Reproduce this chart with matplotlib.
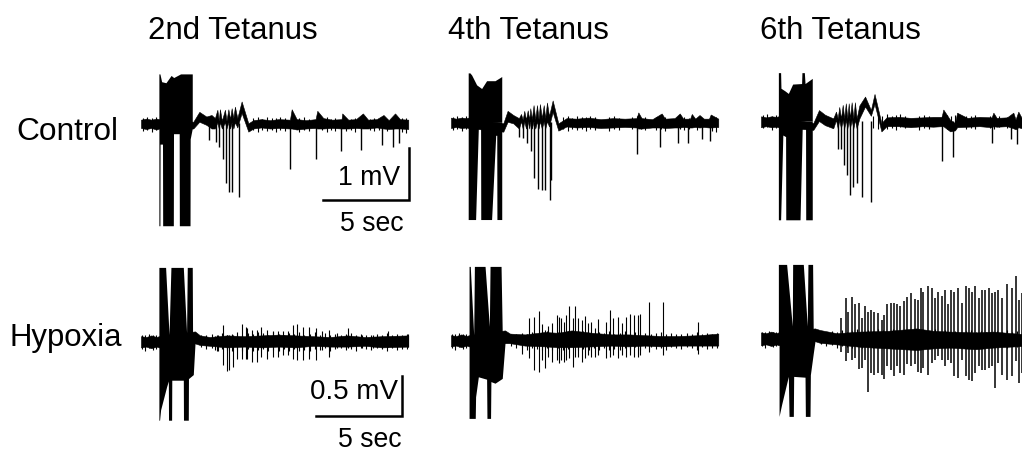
import matplotlib
matplotlib.use("Agg")
import matplotlib.pyplot as plt

plt.rcParams['font.family'] = ['Liberation Sans', 'DejaVu Sans']

W, H = 1022, 450
PX_PER_SEC = 17.2
PX_PER_MV_CONTROL = 52
PX_PER_MV_HYPOXIA = 80

titles = ["2nd Tetanus", "4th Tetanus", "6th Tetanus"]
row_labels = ["Control", "Hypoxia"]

# Control, 2nd tetanus (time in s, voltage in mV)
c2_band_t = [0, .3, .6, .9, 1.05, 3.04, 3.39, 3.8, 4.1, 4.3, 4.44, 4.52, 4.59, 4.7, 4.88, 4.97, 5.08, 5.18, 5.27, 5.37, 5.46, 5.6, 5.85, 6.24, 6.53, 7.0, 7.5, 8.0, 8.66, 8.76, 9.05, 9.6, 10.15, 10.25, 10.6, 11.1, 11.66, 11.7, 12.05, 12.5, 12.9, 13.2, 13.7, 14.1, 14.4, 14.77, 15.06, 15.54]
c2_band_hi = [.07, .09, .07, .09, .08, .03, .22, .13, .16, .1, .26, .05, .27, .05, .26, .05, .27, .08, .29, .1, .32, .1, .42, 0, .06, .08, .06, .08, .07, .27, .08, .06, .08, .24, .1, .07, .08, .19, .07, .08, .19, .07, .08, .16, .06, .19, .08, .07]
c2_band_lo = [-.09, -.11, -.09, -.12, -.1, -.1, .03, -.03, -.1, -.1, .02, -.1, .02, -.1, .02, -.1, .02, -.1, .02, -.1, .02, -.08, .2, -.16, -.1, -.08, -.1, -.09, -.1, -.1, -.12, -.1, -.09, -.1, -.1, -.09, -.1, -.1, -.1, -.09, -.1, -.1, -.08, -.1, -.11, -.1, -.1, -.11]
c2_stim_up_t = [1.04, 1.1, 1.2, 1.45, 1.75, 1.9, 2.3, 2.98]
c2_stim_up = [.95, .95, .8, .78, .92, .88, .95, .95]
c2_stim_lo_t = [1.04, 1.1, 1.11, 1.25, 1.26, 1.88, 1.89, 2.22, 2.23, 2.85, 2.86, 2.98]
c2_stim_lo = [-1.97, -1.97, -.4, -.4, -1.97, -1.97, -.2, -.2, -1.97, -1.97, -.3, -.1]
c2_spike_t = [3.97, 4.34, 4.51, 4.75, 4.94, 5.1, 5.31, 5.7, 8.66, 10.15, 11.61, 12.81, 13.99, 14.63, 14.98]
c2_spike_lo = [-.32, -.35, -.45, -.69, -1.14, -1.33, -1.33, -1.42, -.88, -.68, -.53, -.51, -.42, -.46, -.38]

# Control, 4th tetanus
c4_band_t = [0, .3, .6, .9, 1.0, 3.04, 3.29, 3.62, 3.95, 4.07, 4.17, 4.26, 4.36, 4.46, 4.55, 4.61, 4.7, 4.8, 4.9, 5.0, 5.09, 5.17, 5.28, 5.39, 5.48, 5.58, 5.7, 5.91, 6.24, 6.72, 7.3, 8.0, 8.7, 9.4, 10.1, 10.79, 10.89, 11.08, 11.7, 12.25, 12.44, 13.0, 13.3, 13.5, 13.9, 14.0, 14.2, 14.45, 14.7, 15.0, 15.1, 15.54]
c4_band_hi = [.09, .07, .09, .08, .09, -.02, .22, .14, .08, .16, .05, .22, .05, .23, .05, .27, .06, .33, .06, .33, .06, .35, .08, .33, .08, .38, .12, .42, -.02, .08, .07, .09, .06, .08, .07, .08, .19, .08, .06, .17, .07, .08, .17, .07, .07, .16, .07, .14, .07, .07, .15, .07]
c4_band_lo = [-.11, -.09, -.11, -.1, -.11, -.18, .01, -.02, -.12, .02, -.12, .02, -.12, .02, -.12, .02, -.12, .02, -.12, .02, -.12, .02, -.12, .02, -.12, .02, -.08, .2, -.16, -.08, -.1, -.09, -.11, -.1, -.09, -.1, -.12, -.12, -.1, -.1, -.11, -.1, -.1, -.09, -.1, -.1, -.09, -.1, -.09, -.1, -.1, -.09]
c4_stim_up_t = [1.0, 1.1, 1.2, 1.49, 1.78, 2.07, 2.56, 2.95]
c4_stim_up = [.95, .95, .91, .72, .65, .8, .8, .88]
c4_stim_lo_t = [1.0, 1.43, 1.59, 1.72, 1.73, 2.36, 2.6, 2.66, 2.67, 2.95]
c4_stim_lo = [-1.87, -1.87, -.1, -.1, -1.87, -1.87, -.25, -.25, -1.87, -1.87]
c4_spike_t = [3.95, 4.17, 4.4, 4.65, 4.82, 5.04, 5.27, 5.46, 5.75, 5.81, 10.79, 12.13, 13.22, 13.78, 14.59, 15.06]
c4_spike_lo = [-.28, -.31, -.4, -.56, -1.08, -1.29, -1.3, -1.3, -1.49, -1.11, -.61, -.48, -.4, -.4, -.33, -.35]

# Control, 6th tetanus
c6_band_t = [0, .3, .6, .9, 1.01, 3.04, 3.37, 3.72, 4.2, 4.36, 4.46, 4.55, 4.65, 4.75, 4.84, 4.93, 5.02, 5.1, 5.17, 5.27, 5.37, 5.46, 5.56, 5.72, 6.05, 6.39, 6.6, 7.0, 7.3, 8.0, 8.7, 9.4, 10.0, 10.5, 10.6, 11.0, 11.28, 11.4, 12.0, 12.7, 13.41, 13.51, 13.7, 14.3, 14.67, 14.8, 14.96, 15.17]
c6_band_hi = [.09, .07, .09, .08, .09, -.04, .21, .12, .05, .18, .05, .27, .05, .31, .05, .34, .05, .34, .05, .36, .05, .36, .05, .3, .47, .21, .52, -.04, .07, .08, .06, .07, .08, .08, .22, .02, -.04, .16, .06, .08, .07, .16, .06, .07, .16, .03, .18, .05]
c6_band_lo = [-.12, -.1, -.12, -.11, -.12, -.17, .0, -.08, -.14, .02, -.14, .02, -.14, .02, -.14, .02, -.14, .02, -.14, .02, -.14, .02, -.14, .05, .28, .1, .33, -.2, -.1, -.1, -.12, -.1, -.11, -.1, -.1, -.2, -.18, -.12, -.11, -.1, -.12, -.1, -.11, -.1, -.14, -.16, -.12, -.14]
c6_stim_up_t = [1.01, 1.14, 1.16, 1.39, 1.59, 1.84, 2.36, 2.38, 2.52, 2.56, 2.98]
c6_stim_up = [.93, .93, .63, .58, .53, .71, .72, .93, .93, .72, .82]
c6_stim_lo_t = [1.01, 1.14, 1.27, 1.43, 1.44, 2.27, 2.4, 2.59, 2.6, 2.98]
c6_stim_lo = [-1.9, -1.9, -.27, -.3, -1.9, -1.9, -.08, -.08, -1.9, -1.9]
c6_spike_t = [4.46, 4.65, 4.84, 5.02, 5.17, 5.37, 5.56, 5.87, 6.39, 10.5, 11.18, 13.41, 14.53, 14.9]
c6_spike_lo = [-.53, -.53, -.85, -1.04, -1.42, -1.26, -1.2, -1.46, -1.55, -.76, -.69, -.43, -.35, -.44]

# Hypoxia, 2nd tetanus
h2_band_t = [0, .3, .6, .9, 1.04, 3.14, 3.43, 4.0, 5.0, 6.0, 7.0, 8.0, 9.0, 10.0, 11.0, 12.0, 13.0, 14.0, 15.54]
h2_band_hi = [.06, .05, .07, .05, .06, .12, .07, .05, .07, .06, .07, .08, .07, .06, .05, .07, .05, .06, .07]
h2_band_lo = [-.08, -.07, -.09, -.07, -.08, -.03, -.05, -.06, -.08, -.07, -.08, -.07, -.08, -.06, -.07, -.07, -.06, -.08, -.07]
h2_stim_up_t = [1.04, 1.43, 1.63, 1.74, 2.46, 2.65, 2.69, 2.98, 3.0]
h2_stim_up = [.92, .92, .08, .92, .92, .1, .92, .92, 0]
h2_stim_lo_t = [1.04, 1.08, 1.14, 1.49, 1.59, 1.6, 1.78, 1.79, 2.46, 2.47, 2.75, 2.76, 3.04, 3.14]
h2_stim_lo = [-.99, -.99, -.86, -.57, -.5, -.99, -.99, -.49, -.49, -.99, -.99, -.47, -.42, -.03]
h2_spike_t = [4.3, 4.49, 4.78, 4.98, 5.13, 5.33, 5.56, 5.85, 6.1, 6.18, 6.43, 6.72, 6.97, 7.3, 7.69, 7.98, 8.27, 8.56, 8.82, 9.05, 9.44, 9.78, 10.17, 10.5, 10.95, 11.37, 12.05, 12.83, 13.5, 14.38, 15.54]
h2_spike_lo = [-.11, -.13, -.3, -.38, -.36, -.32, -.22, -.22, -.22, -.22, -.26, -.26, -.2, -.22, -.2, -.2, -.18, -.18, -.22, -.24, -.24, -.22, -.24, -.11, -.2, -.09, -.09, -.09, -.09, -.07, -.08]
h2_spike_hi = [.06, .08, .2, .08, .08, .08, .08, .21, .18, .16, .14, .14, .18, .14, .12, .12, .12, .12, .2, .21, .18, .18, .16, .12, .14, .1, .16, .08, .08, .12, .09]

# Hypoxia, 4th tetanus
h4_band_t = [0, .3, .6, .9, 1.05, 3.14, 3.43, 4.3, 5.46, 6.2, 7.01, 8.2, 9.34, 10.3, 11.28, 12.2, 13.22, 14.4, 15.54]
h4_band_hi = [.06, .05, .07, .05, .06, .12, .08, .07, .1, .09, .12, .09, .07, .07, .06, .05, .05, .06, .08]
h4_band_lo = [-.08, -.07, -.09, -.07, -.08, -.04, -.04, -.07, -.08, -.09, -.09, -.08, -.07, -.08, -.07, -.08, -.07, -.07, -.07]
h4_stim_up_t = [1.05, 1.12, 1.32, 1.36, 1.98, 2.23, 2.27, 2.91, 2.98, 3.1]
h4_stim_up = [.92, .92, .06, .92, .92, .17, .92, .92, .08, 0]
h4_stim_lo_t = [1.05, 1.41, 1.43, 1.59, 2.07, 2.09, 2.3, 2.32, 2.56, 2.98, 3.14]
h4_stim_lo = [-.98, -.98, -.71, -.46, -.49, -.98, -.98, -.52, -.54, -.48, -.04]
h4_spike_t = [4.15, 4.55, 4.84, 5.11, 5.29, 5.46, 5.66, 5.89, 6.14, 6.28, 6.39, 6.57, 6.7, 6.88, 7.11, 7.19, 7.36, 7.6, 7.77, 7.94, 8.12, 8.37, 8.56, 9.01, 9.24, 9.44, 9.73, 9.92, 10.17, 10.43, 10.62, 10.85, 11.01, 11.51, 12.3, 14.34]
h4_spike_lo = [-.17, -.23, -.37, -.4, -.25, -.35, -.21, -.27, -.25, -.29, -.25, -.27, -.25, -.23, -.34, -.21, -.21, -.27, -.23, -.19, -.21, -.21, -.19, -.23, -.21, -.19, -.23, -.19, -.21, -.19, -.21, -.21, -.19, -.15, -.19, -.17]
h4_spike_hi = [.06, .28, .29, .36, .2, .13, .17, .21, .31, .29, .28, .23, .31, .42, .27, .43, .27, .25, .3, .21, .23, .15, .26, .23, .38, .27, .29, .21, .29, .32, .31, .31, .33, .48, .47, .22]

# Hypoxia, 6th tetanus
h6_band_t = [0, .3, .6, .9, 1.01, 3.14, 3.43, 4.4, 5.76, 7.4, 9.05, 10.0, 10.99, 12.5, 13.5, 15.17]
h6_band_hi = [.07, .06, .08, .06, .07, .12, .1, .06, .08, .09, .12, .09, .08, .07, .08, .05]
h6_band_lo = [-.09, -.08, -.1, -.08, -.09, -.04, -.06, -.08, -.11, -.13, -.15, -.13, -.12, -.14, -.12, -.1]
h6_stim_up_t = [1.01, 1.49, 1.82, 1.84, 2.46, 2.69, 2.73, 3.0, 3.04]
h6_stim_up = [.92, .92, .15, .92, .92, .15, .92, .92, 0]
h6_stim_lo_t = [1.05, 1.2, 1.59, 1.63, 1.88, 1.9, 2.56, 2.58, 2.85, 2.87, 3.04, 3.14]
h6_stim_lo = [-.98, -.83, -.48, -.98, -.98, -.48, -.49, -.98, -.98, -.46, -.19, -.04]
h6_spike_t = [4.63, 4.92, 5.08, 5.27, 5.48, 5.7, 5.85, 6.05, 6.22, 6.38, 6.57, 6.82, 7.01, 7.17, 7.31, 7.54, 7.73, 7.89, 8.08, 8.31, 8.47, 8.74, 8.95, 9.15, 9.28, 9.44, 9.69, 9.92, 10.12, 10.31, 10.5, 10.7, 10.89, 11.05, 11.22, 11.47, 11.67, 11.9, 12.09, 12.25, 12.44, 12.69, 12.87, 13.02, 13.26, 13.45, 13.6, 13.8, 14.03, 14.28, 14.57, 14.83, 15.02, 15.15]
h6_spike_lo = [-.17, -.29, -.19, -.27, -.25, -.39, -.38, -.27, -.67, -.44, -.46, -.44, -.46, -.51, -.35, -.4, -.48, -.35, -.44, -.46, -.33, -.35, -.33, -.42, -.44, -.38, -.46, -.31, -.27, -.23, -.27, -.35, -.27, -.31, -.48, -.5, -.27, -.48, -.52, -.54, -.44, -.35, -.4, -.4, -.38, -.35, -.62, -.31, -.46, -.52, -.48, -.29, -.56, -.44]
h6_spike_hi = [.25, .5, .33, .51, .42, .44, .25, .4, .33, .35, .33, .31, .23, .29, .42, .44, .44, .42, .4, .46, .51, .56, .49, .48, .63, .58, .65, .63, .5, .58, .52, .6, .42, .6, .58, .63, .44, .65, .63, .58, .65, .5, .6, .6, .63, .56, .58, .6, .5, .67, .63, .78, .48, .56]

# recording noise on the baseline, one set per row
ctrl_noise_t = [.1, .35, .62, .85, 6.5, 6.8, 7.05, 7.3, 7.6, 7.85, 8.1, 8.4, 9.2, 9.45, 9.75, 10.5, 10.8, 11.05, 11.3, 11.9, 12.2, 12.45, 13.3, 13.55, 13.85, 14.3, 15.2, 15.4]
ctrl_noise_hi = [.11, .13, .1, .12, .1, .12, .09, .13, .1, .11, .13, .1, .1, .12, .09, .1, .12, .09, .11, .1, .09, .11, .09, .11, .09, .08, .1, .11]
ctrl_noise_lo = [-.14, -.12, -.17, -.13, -.13, -.16, -.12, -.15, -.13, -.17, -.12, -.14, -.17, -.13, -.15, -.13, -.16, -.12, -.14, -.15, -.13, -.16, -.13, -.15, -.12, -.14, -.16, -.18]
hyp_noise_t = [.08, .25, .47, .7, .88, 3.5, 3.8, 4.1, 4.4, 4.7, 5.0, 5.3, 5.6, 5.9, 6.2, 6.5, 6.8, 7.1, 7.4, 7.7, 8.0, 8.3, 8.6, 8.9, 9.2, 9.5, 9.8, 10.1, 10.4, 10.7, 11.0, 11.3, 11.6, 11.9, 12.2, 12.5, 12.8, 13.1, 13.4, 13.7, 14.0, 14.3, 14.6, 14.9, 15.2, 15.45]
hyp_noise_hi = [.08, .07, .09, .07, .08, .08, .07, .09, .08, .1, .08, .09, .11, .08, .1, .09, .11, .1, .08, .11, .09, .08, .1, .09, .11, .08, .09, .11, .08, .1, .08, .09, .07, .09, .1, .07, .09, .08, .07, .09, .08, .1, .07, .09, .08, .09]
hyp_noise_lo = [-.1, -.12, -.09, -.11, -.1, -.08, -.1, -.09, -.12, -.1, -.11, -.13, -.1, -.12, -.1, -.13, -.11, -.1, -.13, -.11, -.12, -.1, -.13, -.1, -.12, -.11, -.13, -.1, -.11, -.09, -.12, -.1, -.09, -.11, -.1, -.12, -.09, -.1, -.11, -.09, -.1, -.12, -.09, -.11, -.1, -.1]


def panel_ax(fig, x0, y0, px_per_mv):
    # axes with its origin on the trace baseline, 75 px above and 110 px below it
    width = 290
    ax = fig.add_axes([x0 / W, 1 - (y0 + 110) / H, width / W, 185 / H])
    ax.set_xlim(0, width / PX_PER_SEC)
    ax.set_ylim(-110 / px_per_mv, 75 / px_per_mv)
    ax.axis("off")
    ax.patch.set_alpha(0)
    return ax


def draw_trace(ax, band_t, band_hi, band_lo, up_t, up, lo_t, lo, spike_t, spike_lo, spike_hi=None, spike_lw=.8, noise=None):
    ax.fill_between(band_t, band_lo, band_hi, color="black", lw=.4)
    ax.fill_between(up_t, 0, up, color="black", lw=0)
    ax.fill_between(lo_t, lo, 0, color="black", lw=0)
    if spike_hi is None:
        spike_hi = [0] * len(spike_t)
    ax.vlines(spike_t, spike_lo, spike_hi, color="black", lw=spike_lw)
    if noise is not None:
        t = [v for v in noise[0] if v <= band_t[-1]]
        ax.vlines(t, noise[2][:len(t)], noise[1][:len(t)], color="black", lw=.8)


ctrl_noise = (ctrl_noise_t, ctrl_noise_hi, ctrl_noise_lo)
hyp_noise = (hyp_noise_t, hyp_noise_hi, hyp_noise_lo)

fig = plt.figure(figsize=(W / 100, H / 100), dpi=100, facecolor="white")

ax = panel_ax(fig, 141, 123.3, PX_PER_MV_CONTROL)
draw_trace(ax, c2_band_t, c2_band_hi, c2_band_lo, c2_stim_up_t, c2_stim_up, c2_stim_lo_t, c2_stim_lo, c2_spike_t, c2_spike_lo, spike_lw=1, noise=ctrl_noise)
# scale bar: 5 s by 1 mV
ax.plot([10.58, 15.58, 15.58], [-1.48, -1.48, -.48], color="black", lw=1.8, solid_joinstyle="miter")

ax = panel_ax(fig, 451, 122.3, PX_PER_MV_CONTROL)
draw_trace(ax, c4_band_t, c4_band_hi, c4_band_lo, c4_stim_up_t, c4_stim_up, c4_stim_lo_t, c4_stim_lo, c4_spike_t, c4_spike_lo, spike_lw=1, noise=ctrl_noise)

ax = panel_ax(fig, 761, 121, PX_PER_MV_CONTROL)
draw_trace(ax, c6_band_t, c6_band_hi, c6_band_lo, c6_stim_up_t, c6_stim_up, c6_stim_lo_t, c6_stim_lo, c6_spike_t, c6_spike_lo, spike_lw=1, noise=ctrl_noise)

ax = panel_ax(fig, 141, 341, PX_PER_MV_HYPOXIA)
draw_trace(ax, h2_band_t, h2_band_hi, h2_band_lo, h2_stim_up_t, h2_stim_up, h2_stim_lo_t, h2_stim_lo, h2_spike_t, h2_spike_lo, h2_spike_hi, noise=hyp_noise)
# scale bar: 5 s by 0.5 mV
ax.plot([10.17, 15.17, 15.17], [-.94, -.94, -.44], color="black", lw=1.8, solid_joinstyle="miter")

ax = panel_ax(fig, 451, 340, PX_PER_MV_HYPOXIA)
draw_trace(ax, h4_band_t, h4_band_hi, h4_band_lo, h4_stim_up_t, h4_stim_up, h4_stim_lo_t, h4_stim_lo, h4_spike_t, h4_spike_lo, h4_spike_hi, noise=hyp_noise)

ax = panel_ax(fig, 761, 338, PX_PER_MV_HYPOXIA)
draw_trace(ax, h6_band_t, h6_band_hi, h6_band_lo, h6_stim_up_t, h6_stim_up, h6_stim_lo_t, h6_stim_lo, h6_spike_t, h6_spike_lo, h6_spike_hi, spike_lw=1.1, noise=hyp_noise)

for x, title in zip([148, 448, 760], titles):
    fig.text(x / W, 1 - 31 / H, title, fontsize=22.5, ha="left", va="center")
fig.text(16 / W, 1 - 132 / H, row_labels[0], fontsize=22.8, ha="left", va="center")
fig.text(9 / W, 1 - 338 / H, row_labels[1], fontsize=22.4, ha="left", va="center")
fig.text(338 / W, 1 - 178 / H, "1 mV", fontsize=19.2, ha="left", va="center")
fig.text(340 / W, 1 - 224 / H, "5 sec", fontsize=19.2, ha="left", va="center")
fig.text(310 / W, 1 - 392 / H, "0.5 mV", fontsize=20, ha="left", va="center")
fig.text(338 / W, 1 - 440 / H, "5 sec", fontsize=19.2, ha="left", va="center")

fig.savefig("out.png", dpi=100)
